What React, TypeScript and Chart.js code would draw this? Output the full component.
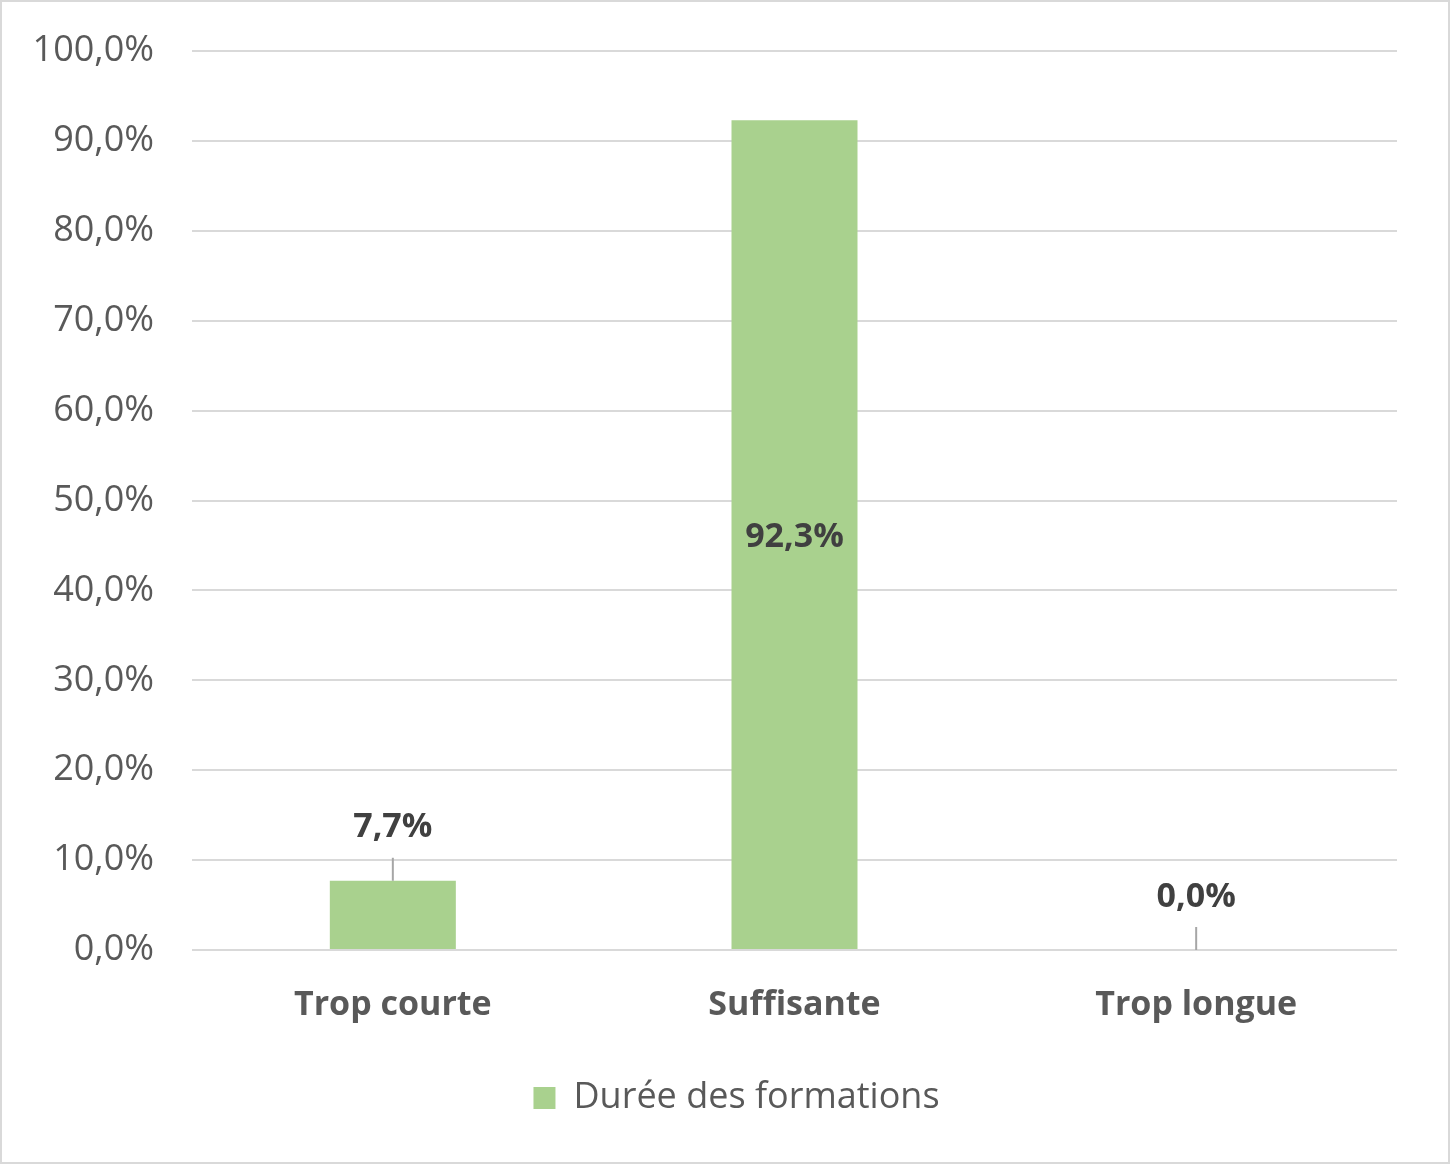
import React, { useEffect, useRef } from 'react';
import { Chart, registerables } from 'chart.js';
import type { Plugin } from 'chart.js';

Chart.register(...registerables);

const categories = ['Trop courte', 'Suffisante', 'Trop longue'];
const seriesLabel = 'Durée des formations';
const dureeValues = [7.7, 92.3, 0.0];
const yTicks = [0, 10, 20, 30, 40, 50, 60, 70, 80, 90, 100];

const FONT = '"Open Sans", "Liberation Sans", sans-serif';
const BAR_COLOR = '#A9D18E';

const fmt = (v: number) => v.toFixed(1).replace('.', ',') + '%';

// étiquettes de données façon Excel (au centre pour la grande barre, au-dessus avec trait sinon)
const dataLabels: Plugin<'bar'> = {
  id: 'dataLabels',
  afterDatasetsDraw(chart) {
    const ctx = chart.ctx;
    const meta = chart.getDatasetMeta(0);
    ctx.save();
    ctx.font = `bold 34px ${FONT}`;
    ctx.textAlign = 'center';
    ctx.textBaseline = 'middle';
    meta.data.forEach((el: any, i: number) => {
      const v = dureeValues[i];
      const { x, y, base } = el.getProps(['x', 'y', 'base'], true);
      if (v > 50) {
        ctx.fillStyle = '#404040';
        ctx.fillText(fmt(v), x, (y + base) / 2 + 3);
      } else {
        ctx.strokeStyle = '#A6A6A6';
        ctx.lineWidth = 2;
        ctx.beginPath();
        ctx.moveTo(x, y - 23);
        ctx.lineTo(x, y);
        ctx.stroke();
        ctx.fillStyle = '#404040';
        ctx.fillText(fmt(v), x, y - 53);
      }
    });
    ctx.restore();
  },
};

// la légende d'Excel est un peu décalée vers la droite
const legendShift: Plugin<'bar'> = {
  id: 'legendShift',
  afterLayout(chart) {
    const lg: any = (chart as any).legend;
    if (lg) {
      lg.left += 37;
      lg.right += 37;
    }
  },
};

const DureeChart: React.FC = () => {
  const canvasRef = useRef<HTMLCanvasElement>(null);
  const chartRef = useRef<Chart | null>(null);

  useEffect(() => {
    document.body.style.margin = '0';
    if (!canvasRef.current) return;
    if (chartRef.current) chartRef.current.destroy();

    chartRef.current = new Chart(canvasRef.current, {
      type: 'bar',
      data: {
        labels: categories,
        datasets: [
          {
            label: seriesLabel,
            data: dureeValues,
            backgroundColor: BAR_COLOR,
            borderWidth: 0,
            barPercentage: 0.3137,
            categoryPercentage: 1,
          },
        ],
      },
      options: {
        responsive: true,
        maintainAspectRatio: false,
        animation: false,
        layout: { padding: { top: 49, right: 51, bottom: 36, left: 0 } },
        plugins: {
          tooltip: { enabled: false },
          legend: {
            position: 'bottom',
            labels: {
              boxWidth: 22,
              boxHeight: 22,
              padding: 50,
              color: '#595959',
              font: { family: FONT, size: 36 },
            },
          },
        },
        scales: {
          x: {
            grid: { display: false, drawTicks: false },
            border: { display: false },
            ticks: {
              padding: 35,
              color: '#595959',
              font: { family: FONT, size: 34, weight: 'bold' },
            },
            afterFit: (scale: any) => {
              scale.height = 80;
            },
          },
          y: {
            min: 0,
            max: 100,
            grid: { color: '#D9D9D9', lineWidth: 2, drawTicks: false },
            border: { display: false },
            afterBuildTicks: (scale: any) => {
              scale.ticks = yTicks.map((v) => ({ value: v }));
            },
            ticks: {
              padding: 38,
              color: '#595959',
              font: { family: FONT, size: 36, lineHeight: 0.6 },
              callback: (v: any) => fmt(Number(v)),
            },
            afterFit: (scale: any) => {
              scale.width = 190;
            },
          },
        },
      },
      plugins: [dataLabels, legendShift],
    });

    return () => {
      if (chartRef.current) {
        chartRef.current.destroy();
        chartRef.current = null;
      }
    };
  }, []);

  return (
    <div
      style={{
        width: 1450,
        height: 1164,
        boxSizing: 'border-box',
        border: '2px solid #D9D9D9',
        background: '#fff',
      }}
    >
      <div style={{ position: 'relative', width: 1446, height: 1160 }}>
        <canvas ref={canvasRef}></canvas>
      </div>
    </div>
  );
};

export default function App() {
  return <DureeChart />;
}
